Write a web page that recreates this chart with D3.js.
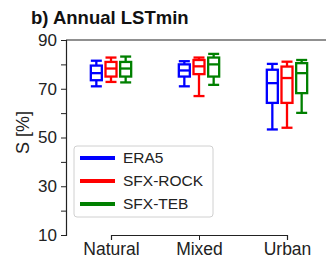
<!DOCTYPE html>
<html>
<head>
<meta charset="utf-8">
<script src="https://cdn.jsdelivr.net/npm/d3@7"></script>
<style>
  body { margin: 0; background: #fff; overflow: hidden; }
  svg { display: block; font-family: "Liberation Sans", Arial, sans-serif; }
</style>
</head>
<body>
<svg id="chart"></svg>
<script>
var categories = ['Natural', 'Mixed', 'Urban'];
var seriesNames = ['ERA5', 'SFX-ROCK', 'SFX-TEB'];
var seriesColors = ['#0000ff', '#ff0000', '#008000'];
// [min, q1, median, q3, max] per category
var era5Stats = [[71, 73.5, 76.4, 79.5, 81.5], [71, 75, 77.5, 80, 81.3], [53.3, 64.2, 72.3, 77.8, 80.2]];
var rockStats = [[72.8, 75, 78.3, 81, 82.8], [67, 76, 79.2, 81.8, 82.8], [54, 64.2, 74.4, 79.1, 81.1]];
var tebStats  = [[72.6, 75, 78.3, 81, 83.2], [71.6, 75, 80, 82.8, 84.3], [60.1, 68.2, 76.4, 80.5, 81.8]];
var yTicks = [10, 20, 30, 40, 50, 60, 70, 80, 90];
var yLabels = [10, 30, 50, 70, 90];

var width = 326, height = 263,
    margin = {top: 40, left: 66, right: 0, bottom: 28},
    innerWidth = width - margin.left - margin.right,
    innerHeight = height - margin.top - margin.bottom;

var font = '"Liberation Sans", Arial, sans-serif';

var svg = d3.select('#chart').attr('width', width).attr('height', height);

var chart = svg.append('g')
    .attr('transform', 'translate(' + margin.left + ', ' + margin.top + ')');

var x = d3.scalePoint().domain(categories).range([45, 221]);
var inner = d3.scaleBand().domain(seriesNames).range([-22, 22]);
var y = d3.scaleLinear().domain([10, 90]).range([innerHeight, 0]);

var allStats = [era5Stats, rockStats, tebStats];
var boxes = [];
allStats.forEach(function (stats, s) {
    stats.forEach(function (st, c) {
        boxes.push({cat: categories[c], series: seriesNames[s], color: seriesColors[s], st: st});
    });
});

// axes
var yAxis = d3.axisLeft(y).tickValues(yTicks).tickSize(5).tickPadding(4)
    .tickFormat(function (d) { return d; });
var gy = chart.append('g').call(yAxis).attr('font-family', font);
gy.select('.domain').attr('stroke', '#222').attr('stroke-width', 1.2);
gy.selectAll('.tick line').attr('stroke', '#222');
gy.selectAll('.tick text')
    .filter(function (d) { return yLabels.indexOf(d) < 0; }).remove();
gy.selectAll('text').attr('font-size', 17).attr('fill', '#222');

var xAxis = d3.axisBottom(x).tickSize(5).tickPadding(3);
var gx = chart.append('g').attr('transform', 'translate(0,' + innerHeight + ')')
    .call(xAxis).attr('font-family', font);
gx.select('.domain').attr('stroke', '#222').attr('stroke-width', 1.2);
gx.selectAll('.tick line').attr('stroke', '#222');
gx.selectAll('text').attr('font-size', 17.5).attr('fill', '#222');

chart.append('line')
    .attr('x1', 0).attr('x2', innerWidth).attr('y1', 0).attr('y2', 0)
    .attr('stroke', '#222').attr('stroke-width', 1.2);

// boxes
var bw = 11;
var g = chart.selectAll('.box').data(boxes).enter().append('g')
    .attr('class', 'box')
    .attr('transform', function (d) {
        return 'translate(' + (x(d.cat) + inner(d.series) + inner.bandwidth() / 2) + ',0)';
    })
    .attr('stroke', function (d) { return d.color; })
    .attr('stroke-width', 2.3)
    .attr('fill', 'none');

g.append('line').attr('x1', 0).attr('x2', 0)
    .attr('y1', function (d) { return y(d.st[0]); })
    .attr('y2', function (d) { return y(d.st[1]); });
g.append('line').attr('x1', 0).attr('x2', 0)
    .attr('y1', function (d) { return y(d.st[3]); })
    .attr('y2', function (d) { return y(d.st[4]); });
[0, 2, 4].forEach(function (k) {
    g.append('line').attr('x1', -bw / 2).attr('x2', bw / 2)
        .attr('y1', function (d) { return y(d.st[k]); })
        .attr('y2', function (d) { return y(d.st[k]); });
});
g.append('rect')
    .attr('x', -bw / 2).attr('width', bw)
    .attr('y', function (d) { return y(d.st[3]); })
    .attr('height', function (d) { return y(d.st[1]) - y(d.st[3]); });

// legend
var legend = svg.append('g').attr('transform', 'translate(74,146)');
legend.append('rect').attr('width', 139).attr('height', 71).attr('rx', 3)
    .attr('fill', '#fff').attr('fill-opacity', 0.85)
    .attr('stroke', '#d0d0d0').attr('stroke-width', 1);
seriesNames.forEach(function (name, i) {
    var ly = 12 + i * 23;
    legend.append('line').attr('x1', 6).attr('x2', 41).attr('y1', ly).attr('y2', ly)
        .attr('stroke', seriesColors[i]).attr('stroke-width', 4);
    legend.append('text').attr('x', 49).attr('y', ly).attr('dy', '0.35em')
        .attr('font-size', 15.5).attr('fill', '#222').text(name);
});

// title and y label
svg.append('text').attr('x', 31).attr('y', 24)
    .attr('font-size', 18.5).attr('font-weight', 'bold').attr('fill', '#111')
    .text('b) Annual LSTmin');
svg.append('text')
    .attr('transform', 'translate(29,' + (margin.top + innerHeight / 2 - 5) + ') rotate(-90)')
    .attr('text-anchor', 'middle')
    .attr('font-size', 18).attr('fill', '#222')
    .text('S [%]');
</script>
</body>
</html>
